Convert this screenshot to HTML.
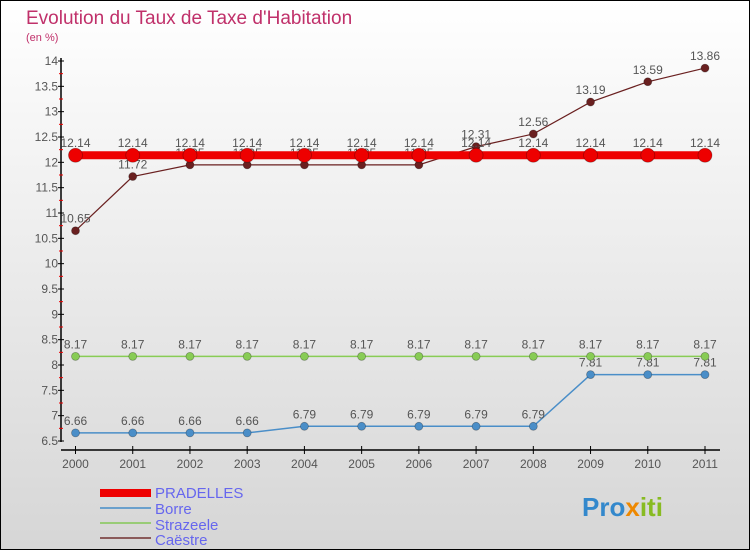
<!DOCTYPE html>
<html><head><meta charset="utf-8"><style>
body{margin:0}
#c{width:750px;height:550px;position:relative;overflow:hidden}
text{font-family:"Liberation Sans",sans-serif}
</style></head><body>
<div id="c">
<svg id="s" width="750" height="550" xmlns="http://www.w3.org/2000/svg">
<defs><linearGradient id="bg" x1="0" y1="0" x2="0" y2="1"><stop offset="0" stop-color="#ffffff"/><stop offset="1" stop-color="#d6d6d6"/></linearGradient></defs>
<rect x="0.5" y="0.5" width="749" height="549" fill="url(#bg)" stroke="#000"/>
<text x="26" y="24" font-size="19" fill="#c0306a">Evolution du Taux de Taxe d'Habitation</text>
<text x="26" y="41" font-size="11" fill="#c0306a">(en %)</text>
<g id="axes"></g><g id="series"></g>
<g>
<rect x="100" y="489" width="51" height="8" fill="#e00"/>
<text x="155" y="498" font-size="15" fill="#6666ee">PRADELLES</text>
<line x1="100" x2="151" y1="508" y2="508" stroke="#6aa0cc" stroke-width="2"/>
<text x="155" y="514" font-size="15" fill="#6666ee">Borre</text>
<line x1="100" x2="151" y1="523" y2="523" stroke="#99cc77" stroke-width="2"/>
<text x="155" y="530" font-size="15" fill="#6666ee">Strazeele</text>
<line x1="100" x2="151" y1="538" y2="538" stroke="#8a5a5a" stroke-width="2"/>
<text x="155" y="545" font-size="15" fill="#6666ee">Caëstre</text>
</g>
<text x="582" y="516" font-size="26" font-weight="bold"><tspan fill="#3388cc">Pro</tspan><tspan fill="#ee8800">x</tspan><tspan fill="#88bb22">iti</tspan></text>
</svg></div>
<script>
const years=[2000,2001,2002,2003,2004,2005,2006,2007,2008,2009,2010,2011];
const pradelles=[12.14,12.14,12.14,12.14,12.14,12.14,12.14,12.14,12.14,12.14,12.14,12.14];
const borre=[6.66,6.66,6.66,6.66,6.79,6.79,6.79,6.79,6.79,7.81,7.81,7.81];
const strazeele=[8.17,8.17,8.17,8.17,8.17,8.17,8.17,8.17,8.17,8.17,8.17,8.17];
const caestre=[10.65,11.72,11.95,11.95,11.95,11.95,11.95,12.31,12.56,13.19,13.59,13.86];
const yTicks=[6.5,7,7.5,8,8.5,9,9.5,10,10.5,11,11.5,12,12.5,13,13.5,14];
const NS="http://www.w3.org/2000/svg";
const xS=i=>75.5+i*(705-75.5)/(years.length-1);
const yS=v=>61+(14-v)*(380/7.5);
function mk(tag,at,parent){const e=document.createElementNS(NS,tag);for(const k in at)e.setAttribute(k,at[k]);parent.appendChild(e);return e;}
const ax=document.getElementById('axes');
let l=mk('line',{x1:61,x2:61,y1:58,y2:442,stroke:'#000','stroke-width':1.5},ax);


l=mk('line',{x1:61,x2:720,y1:450,y2:450,stroke:'#000','stroke-width':1.5},ax);


yTicks.forEach((v,i)=>{
 mk('line',{x1:58,x2:64,y1:yS(v),y2:yS(v),stroke:'#000'},ax);
 if(i<yTicks.length-1)mk('line',{x1:59,x2:63,y1:yS(v+0.25),y2:yS(v+0.25),stroke:'#e00'},ax);
 const t=mk('text',{x:58,y:yS(v)+4,'font-size':12,'text-anchor':'end',fill:'#555'},ax);
 t.textContent=String(v);
 
 
});
years.forEach((y,i)=>{
 mk('line',{x1:xS(i),x2:xS(i),y1:446,y2:454,stroke:'#000'},ax);
 const t=mk('text',{x:xS(i),y:468,'font-size':12,'text-anchor':'middle',fill:'#555'},ax);
 t.textContent=y;
 
 
});
const sg=document.getElementById('series');
function series(name,vals,color,w,r){
 const g=mk('g',{},sg);
 
 
 mk('polyline',{points:vals.map((v,i)=>xS(i)+','+yS(v)).join(' '),fill:'none',stroke:color,'stroke-width':w},g);
 vals.forEach((v,i)=>{
  const c=mk('circle',{cx:xS(i),cy:yS(v),r:r,fill:color,stroke:'rgba(0,0,0,0.3)','stroke-width':0.8},g);
  
  
  const t=mk('text',{x:xS(i),y:yS(v)-8,'font-size':12,'text-anchor':'middle',fill:'#555'},g);
  t.textContent=String(v);
  
  
 });
}
series('borre',borre,'#4a8ec8',1.5,4);
series('strazeele',strazeele,'#88cc55',1.5,4);
series('caestre',caestre,'#6a2020',1.2,4);
series('pradelles',pradelles,'#ee0000',8,7);
</script>
</body></html>
